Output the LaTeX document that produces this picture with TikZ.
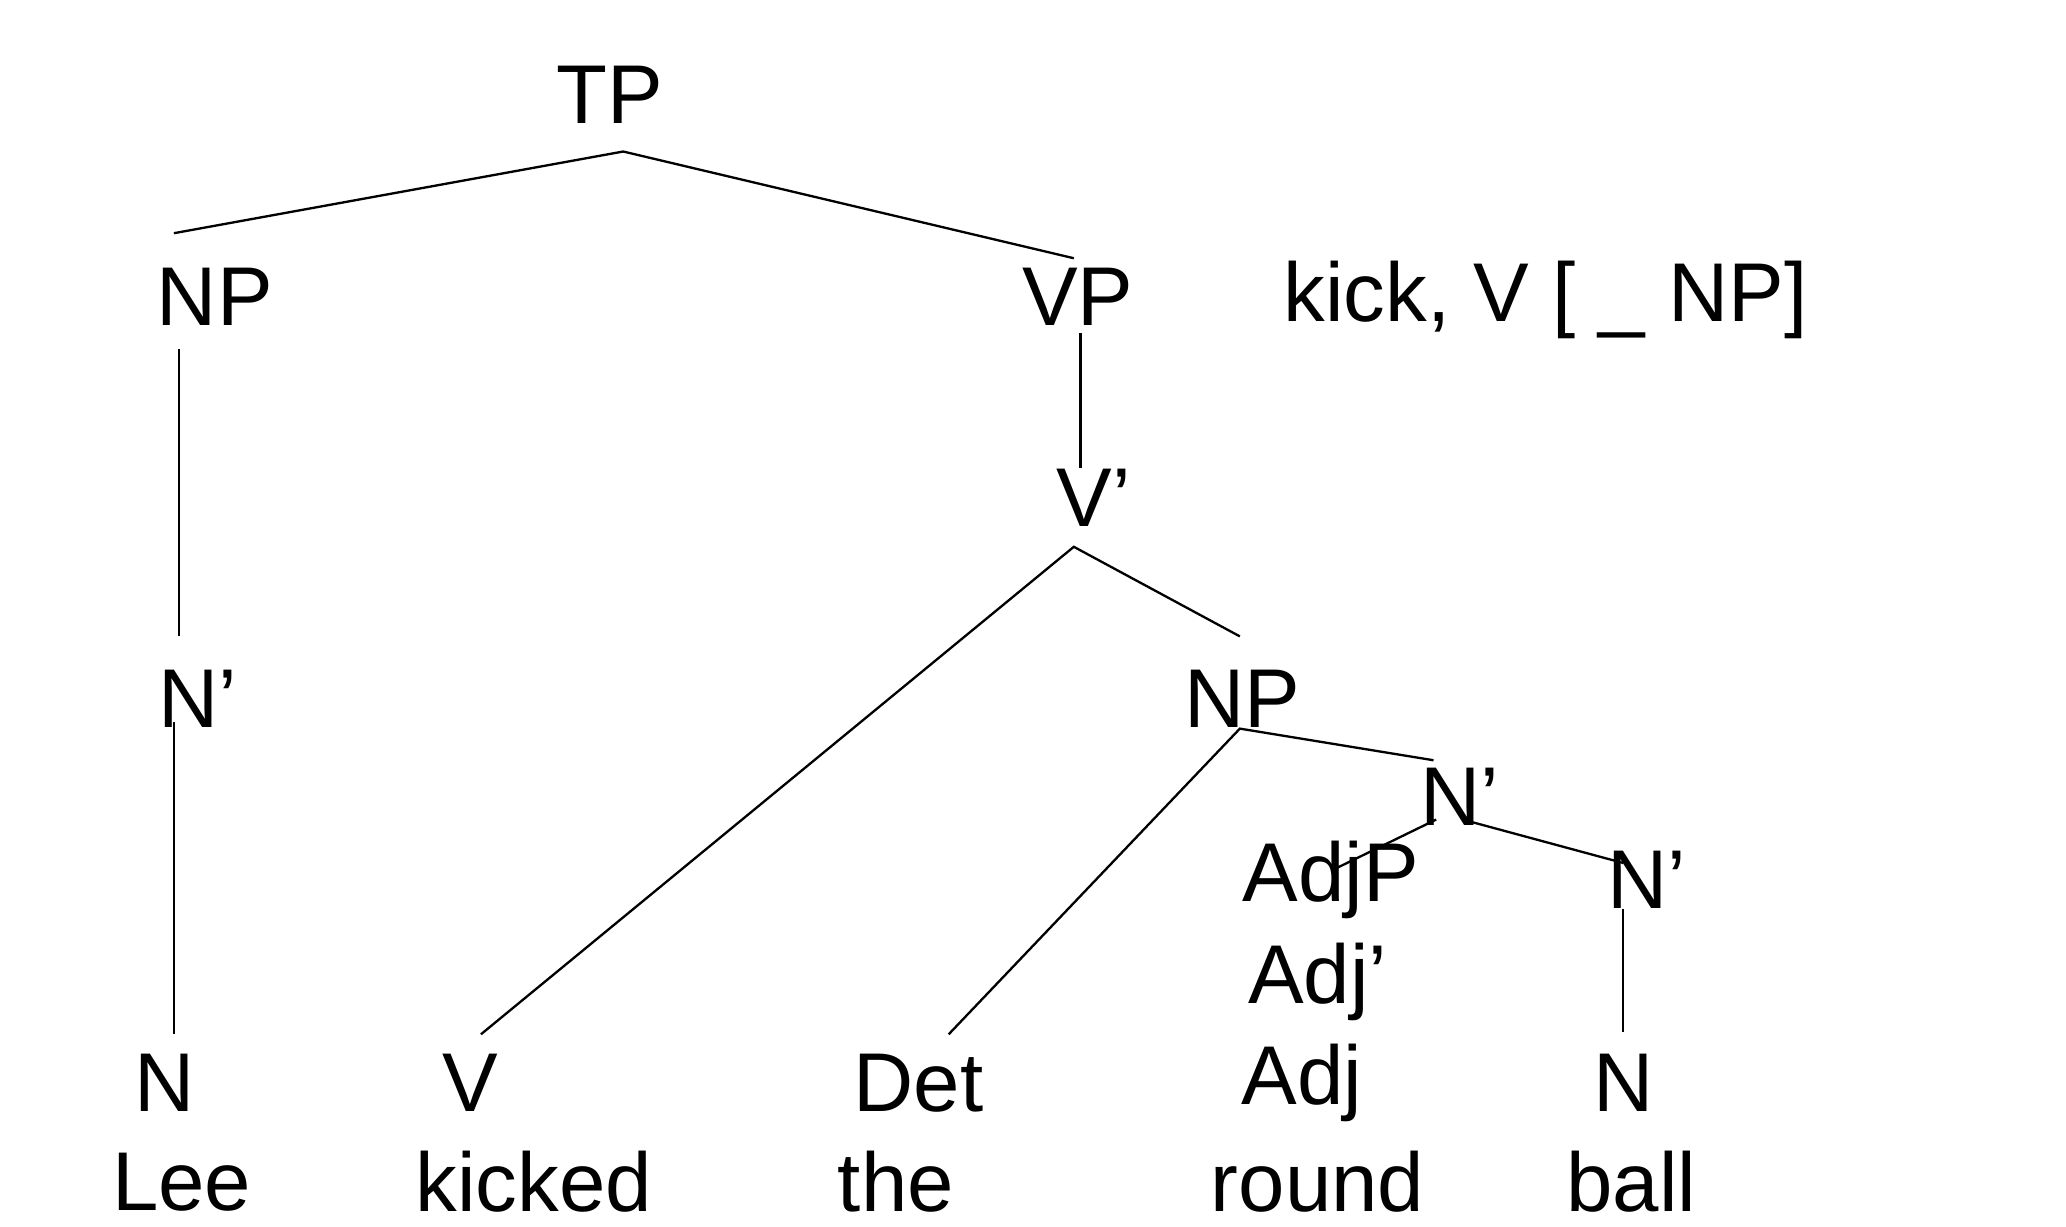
\documentclass[tikz,border=0pt]{standalone}
\usepackage{fontspec}
\setmainfont{Liberation Sans}
\begin{document}
\begin{tikzpicture}[x=0.01cm,y=-0.01cm,
  lab/.style={inner sep=0pt,font=\fontsize{18}{22}\selectfont},
  br/.style={line width=0.5pt}]
\useasboundingbox (0,0) rectangle (1568,930.5);
\node[lab] (tp) at (463,72) {TP};
\node[lab] (np1) at (163,225) {NP};
\node[lab] (vp) at (818,225) {VP};
\node[lab] (sub) at (1173,228) {kick, V [ \_ NP]};
\node[lab] (vb) at (830,378) {V’};
\node[lab] (nb1) at (150,530) {N’};
\node[lab] (np2) at (943,530) {NP};
\node[lab] (nb2) at (1108,605) {N’};
\node[lab] (adjp) at (1010,668) {AdjP};
\node[lab] (nb3) at (1250,668) {N’};
\node[lab] (adjb) at (1000,745) {Adj’};
\node[lab] (n1) at (125,822) {N};
\node[lab] (v) at (357,822) {V};
\node[lab] (det) at (697,822) {Det};
\node[lab] (adj) at (988,822) {Adj};
\node[lab] (n2) at (1232,822) {N};
\node[lab] (w1) at (138,897) {Lee};
\node[lab] (w2) at (405,897) {kicked};
\node[lab] (w3) at (680,897) {the};
\node[lab] (w4) at (1000,897) {round};
\node[lab] (w5) at (1238,897) {ball};
\coordinate (a) at (473,115); \coordinate (b) at (132,177); \coordinate (c) at (815,196);
\coordinate (d1) at (136,265); \coordinate (d2) at (136,483);
\coordinate (e1) at (820,253); \coordinate (e2) at (820,355);
\coordinate (f) at (815,415); \coordinate (f1) at (365,785); \coordinate (f2) at (941,483);
\coordinate (g1) at (132,548); \coordinate (g2) at (132,785);
\coordinate (h) at (941,553); \coordinate (h1) at (720,785); \coordinate (h2) at (1088,577);
\coordinate (i1) at (1090,622); \coordinate (i2) at (1012,660);
\coordinate (j1) at (1110,622); \coordinate (j2) at (1232,655);
\coordinate (k1) at (1232,690); \coordinate (k2) at (1232,783);
\draw[br] (b) -- (a) -- (c);
\draw[br] (d1) -- (d2);
\draw[br] (e1) -- (e2);
\draw[br] (f1) -- (f) -- (f2);
\draw[br] (g1) -- (g2);
\draw[br] (h1) -- (h) -- (h2);
\draw[br] (i1) -- (i2);
\draw[br] (j1) -- (j2);
\draw[br] (k1) -- (k2);
\end{tikzpicture}
\end{document}
